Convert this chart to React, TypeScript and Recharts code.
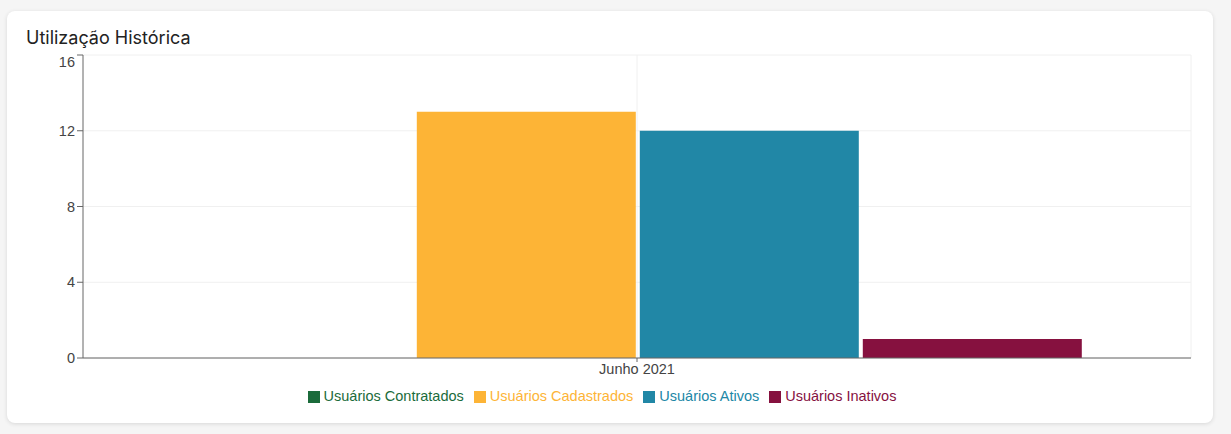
import React from "react";
import {
  BarChart, Bar, XAxis, YAxis, CartesianGrid, Legend,
} from "recharts";

const months = ["Junho 2021"];
const contratados = [0];
const cadastrados = [13];
const ativos = [12];
const inativos = [1];
const yTicks = [0, 4, 8, 12, 16];

const series = [
  { key: "contratados", name: "Usuários Contratados", color: "#1b6b3b" },
  { key: "cadastrados", name: "Usuários Cadastrados", color: "#fdb436" },
  { key: "ativos", name: "Usuários Ativos", color: "#2187a6" },
  { key: "inativos", name: "Usuários Inativos", color: "#86113f" },
];

const data = months.map((m, i) => ({
  month: m,
  contratados: contratados[i],
  cadastrados: cadastrados[i],
  ativos: ativos[i],
  inativos: inativos[i],
}));

const chartFont = "'Liberation Sans', Arial, sans-serif";

// top tick label sits a bit below its tick, like the original
function YTick({ x, y, payload }: any) {
  const dy = payload.value === 16 ? 12 : 5;
  return (
    <text x={x} y={y + dy} textAnchor="end" fill="#444" fontSize={14.5} fontFamily={chartFont}>
      {payload.value}
    </text>
  );
}

export default function App() {
  return (
    <div style={{ position: "absolute", left: 0, top: 0, width: 1231, height: 434, background: "#f5f5f5" }}>
      <div style={{
        position: "absolute", left: 7, top: 11, width: 1206, height: 412,
        background: "#fff", borderRadius: 8, boxShadow: "0 1px 4px rgba(0,0,0,0.12)",
      }}>
        <div style={{
          position: "absolute", left: 19, top: 15, fontFamily: "Inter, sans-serif",
          fontSize: 18, color: "#222", lineHeight: "24px",
        }}>Utilização Histórica</div>
        <div style={{ position: "absolute", left: 0, top: 0 }}>
          <BarChart width={1206} height={412} data={data}
            margin={{ top: 44, right: 22, left: 16, bottom: 19 }}
            barCategoryGap="10%" barGap={4}
            style={{ fontFamily: chartFont }}>
            <CartesianGrid stroke="#f0f0f0"
              verticalCoordinatesGenerator={({ offset }: any) => [offset.left + offset.width / 2, offset.left + offset.width]} />
            <XAxis dataKey="month" stroke="#666" tick={{ fill: "#444", fontSize: 14.5 }} tickSize={4} height={30} />
            <YAxis domain={[0, 16]} ticks={yTicks} width={60} stroke="#666" tick={<YTick />} />
            <Legend iconType="square" iconSize={12}
              itemSorter={(item: any) => series.findIndex(s => s.key === item.dataKey)}
              wrapperStyle={{ fontSize: 14.5, fontFamily: chartFont }} />
            {series.map(s => (
              <Bar key={s.key} dataKey={s.key} name={s.name} fill={s.color} isAnimationActive={false} />
            ))}
          </BarChart>
        </div>
      </div>
    </div>
  );
}
